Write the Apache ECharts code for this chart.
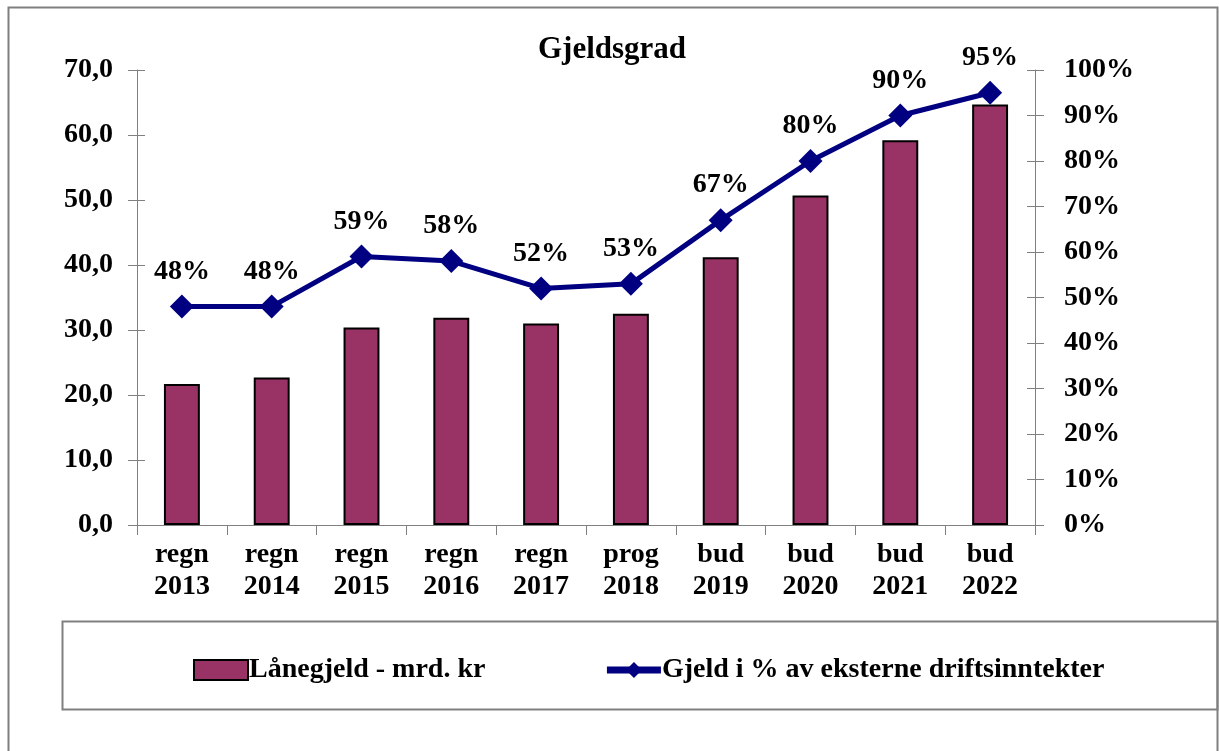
<!DOCTYPE html>
<html>
<head>
<meta charset="utf-8">
<script src="https://cdn.jsdelivr.net/npm/echarts@6/dist/echarts.min.js"></script>
<style>
html,body{margin:0;padding:0;background:#fff;}
#chart{width:1219px;height:751px;}
</style>
</head>
<body>
<div id="chart"></div>
<script>
var categories = ['regn 2013','regn 2014','regn 2015','regn 2016','regn 2017','prog 2018','bud 2019','bud 2020','bud 2021','bud 2022'];
var laanegjeld = [21.7, 22.7, 30.4, 31.9, 31.0, 32.5, 41.2, 50.7, 59.2, 64.7];
var gjeldsgrad = [48, 48, 59, 58, 52, 53, 67, 80, 90, 95];
var leftTicks = [0, 70, 10];
var rightTicks = [0, 100, 10];

var FONT = '"Liberation Serif","Times New Roman",serif';
var chart = echarts.init(document.getElementById('chart'), null, {renderer:'canvas'});
var axisGray = '#808080';
var option = {
  backgroundColor: '#fff',
  animation: false,
  title: {
    text: 'Gjeldsgrad', left: 607, textAlign: 'center', top: 29,
    textStyle: {fontFamily: FONT, fontWeight: 'bold', fontSize: 31, color: '#000'}
  },
  graphic: [
    {type:'rect', shape:{x:8.5, y:7.5, width:1209, height:760}, style:{fill:'none', stroke:'#808080', lineWidth:2}, z:-1},
    {type:'rect', shape:{x:62.5, y:621.5, width:1155, height:88}, style:{fill:'none', stroke:'#808080', lineWidth:2}, z:-1}
  ],
  legend: {
    left: 188, top: 651, itemGap: 118, itemWidth: 54, itemHeight: 20,
    textStyle: {fontFamily: FONT, fontWeight: 'bold', fontSize: 28, color: '#000', padding:[0,0,0,-4]},
    data: [
      {name: 'Lånegjeld - mrd. kr', icon: 'rect', itemStyle: {color: '#993366', borderColor: '#000', borderWidth: 2}},
      {name: 'Gjeld i % av eksterne driftsinntekter', lineStyle: {color: '#000080', width: 7}, itemStyle: {color: '#000080'}}
    ]
  },
  grid: {left: 137, right: 184, top: 70, bottom: 226, containLabel: false},
  xAxis: {
    type: 'category', data: categories,
    axisLine: {lineStyle: {color: axisGray, width: 1}},
    axisTick: {show: true, length: 10, lineStyle: {color: axisGray}},
    axisLabel: {
      formatter: function(v){ return v.replace(' ', '\n'); },
      fontFamily: FONT, fontWeight: 'bold', fontSize: 28, color: '#000', lineHeight: 32, margin: 14
    }
  },
  yAxis: [
    {
      type: 'value', position: 'left', min: leftTicks[0], max: leftTicks[1], interval: leftTicks[2],
      axisLine: {show: true, lineStyle: {color: axisGray}},
      axisTick: {show: true, length: 9, lineStyle: {color: axisGray}},
      splitLine: {show: false},
      axisLabel: {formatter: function(v){ return v.toFixed(1).replace('.', ','); },
        fontFamily: FONT, fontWeight: 'bold', fontSize: 28, color: '#000', margin: 24}
    },
    {
      type: 'value', position: 'right', min: rightTicks[0], max: rightTicks[1], interval: rightTicks[2],
      axisLine: {show: true, lineStyle: {color: axisGray}},
      axisTick: {show: true, length: 9, lineStyle: {color: axisGray}},
      splitLine: {show: false},
      axisLabel: {formatter: '{value}%', fontFamily: FONT, fontWeight: 'bold', fontSize: 28, color: '#000', margin: 29}
    },
    {
      type: 'value', position: 'left', min: leftTicks[0], max: leftTicks[1], interval: leftTicks[2],
      axisLine: {show: false}, axisLabel: {show: false}, splitLine: {show: false},
      axisTick: {show: true, inside: true, length: 8, lineStyle: {color: axisGray}}
    },
    {
      type: 'value', position: 'right', min: rightTicks[0], max: rightTicks[1], interval: rightTicks[2],
      axisLine: {show: false}, axisLabel: {show: false}, splitLine: {show: false},
      axisTick: {show: true, inside: true, length: 8, lineStyle: {color: axisGray}}
    }
  ],
  series: [
    {
      name: 'Lånegjeld - mrd. kr', type: 'bar', yAxisIndex: 0, data: laanegjeld,
      barWidth: '40%',
      itemStyle: {color: '#993366', borderColor: '#000', borderWidth: 2}
    },
    {
      name: 'Gjeld i % av eksterne driftsinntekter', type: 'line', yAxisIndex: 1, data: gjeldsgrad,
      symbol: 'diamond', symbolSize: 24,
      lineStyle: {color: '#000080', width: 5},
      itemStyle: {color: '#000080'},
      label: {show: true, position: 'top', distance: 9, formatter: '{c}%',
        fontFamily: FONT, fontWeight: 'bold', fontSize: 28, color: '#000'}
    }
  ]
};
chart.setOption(option);
</script>
</body>
</html>
